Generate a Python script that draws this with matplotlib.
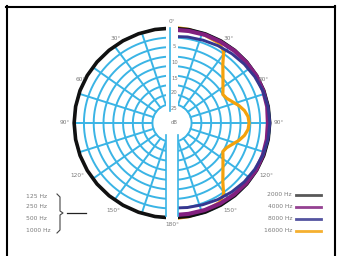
import numpy as np
import matplotlib
matplotlib.use("Agg")
import matplotlib.pyplot as plt
from matplotlib.lines import Line2D
from matplotlib.patches import Rectangle, Ellipse

# ---------------- data ----------------
left_labels = ["125 Hz", "250 Hz", "500 Hz", "1000 Hz"]
left_angles = [180, 190, 200, 210, 220, 230, 240, 250, 260, 270,
               280, 290, 300, 310, 320, 330, 340, 350, 360]
left_db = [0.0, 0.0, 0.0, 0.0, 0.0, 0.0, 0.0, 0.0, 0.0, 0.0,
           0.0, 0.0, 0.0, 0.0, 0.0, 0.0, 0.0, 0.0, 0.0]

right_labels = ["2000 Hz", "4000 Hz", "8000 Hz", "16000 Hz"]
right_colors = ["#111111", "#82207f", "#36368f", "#f4a20c"]

a_right = [0, 10, 20, 30, 40, 50, 60, 70, 80, 90,
           100, 110, 120, 130, 140, 150, 160, 170, 180]
db2000 = [0.0, 0.0, 0.0, 0.0, 0.0, 0.0, 0.0, 0.0, 0.0, 0.0,
          0.0, 0.0, 0.0, 0.0, 0.0, 0.0, 0.0, 0.0, 0.0]
db4000 = [-0.4, -0.4, -0.3, -0.3, -0.2, -0.2, -0.1, -0.2, -0.3, -0.5,
          -0.4, -0.3, -0.2, -0.3, -0.4, -0.5, -0.6, -0.7, -0.7]
db8000 = [-2.2, -2.0, -1.8, -1.5, -1.2, -0.9, -0.6, -0.3, -0.1, 0.0,
          -0.1, -0.3, -0.6, -0.9, -1.3, -1.7, -2.1, -2.4, -2.6]

a16000 = [0, 10, 20, 30, 35, 40, 45, 50, 55, 60, 65, 70, 75, 80, 85, 90,
          95, 100, 105, 110, 115, 120, 125, 130, 135, 140, 145, 150, 160, 170, 180]
db16000 = [0.3, 0.0, -0.4, -0.8, -2.0, -4.8, -6.6, -8.0, -9.1, -10.0, -9.6, -8.6,
           -7.3, -6.2, -5.5, -5.3, -5.5, -6.2, -7.3, -8.6, -9.6, -10.0, -9.1, -8.0,
           -6.6, -4.8, -2.0, -0.8, -0.4, 0.0, 0.3]

angle_ticks = [0, 30, 60, 90, 120, 150, 180, 210, 240, 270, 300, 330]
angle_tick_labels = ["0°", "30°", "60°", "90°", "120°", "150°", "180°",
                     "150°", "120°", "90°", "60°", "30°"]
db_labels = ["5", "10", "15", "20", "25", "dB"]

ring_db = [-20, -17.5, -15, -12.5, -10, -7.5, -5, -2.5, 0]
spoke_step = 18

# ---------------- figure ----------------
W, H = 337, 256
fig = plt.figure(figsize=(W / 100, H / 100), dpi=100)
fig.patch.set_facecolor("white")

cx, cy = 172, 123
aw, ah = 202, 196
ax = fig.add_axes([(cx - aw / 2) / W, 1 - (cy + ah / 2) / H, aw / W, ah / H],
                  projection="polar")
ax.set_theta_zero_location("N")
ax.set_theta_direction(-1)
ax.set_ylim(-25, 0.8)
ax.set_aspect("auto")
ax.grid(False)
ax.set_xticks([])
ax.set_yticks([])
ax.spines["polar"].set_visible(False)
ax.patch.set_alpha(0)

grid_c = "#3ab4e5"
th = np.linspace(0, 2 * np.pi, 721)
for r in ring_db:
    ax.plot(th, np.full_like(th, r), color=grid_c, lw=1.4, zorder=1)
for a in range(0, 360, spoke_step):
    ax.plot([np.deg2rad(a)] * 2, [-20, 0], color=grid_c, lw=1.4, zorder=1)

# center hole
ax.add_patch(Ellipse((0.5, 0.5), 0.17, 0.125, transform=ax.transAxes,
                     facecolor="white", edgecolor="none", zorder=2))

# curves
rad_right = np.deg2rad(a_right)
ax.plot(np.deg2rad(a16000), db16000, color=right_colors[3], lw=2.3, zorder=3)
ax.plot(rad_right, db2000, color=right_colors[0], lw=2.3, zorder=3.1)
ax.plot(rad_right, db4000, color=right_colors[1], lw=3.0, zorder=3.2)
ax.plot(rad_right, db8000, color=right_colors[2], lw=2.1, zorder=3.3)
ax.plot(np.deg2rad(left_angles), left_db, color="#111111", lw=2.6, zorder=3)

# vertical white slot
sw = 0.032
ax.add_patch(Rectangle((0.5 - sw, 0.0), 2 * sw, 1.0, transform=ax.transAxes,
                       facecolor="white", edgecolor="none", zorder=5))
ax.plot([0.49, 0.49], [0.56, 0.985], transform=ax.transAxes, color=grid_c,
        lw=1.2, zorder=6)
ax.plot([0.5 - sw + 0.004] * 2, [0.025, 0.44], transform=ax.transAxes,
        color=grid_c, lw=1.2, zorder=6)
ax.plot([0.5 + sw - 0.004] * 2, [0.025, 0.44], transform=ax.transAxes,
        color=grid_c, lw=1.2, zorder=6)

txt_c = "#7a7a7a"
label_pos = {0: (0, 1.6), 30: (33, 1.6), 60: (64, 1.0), 90: (90, 2.3),
             120: (120, 2.8), 150: (147, 2.4), 180: (180, 1.6),
             210: (213, 2.4), 240: (240, 2.8), 270: (270, 2.3),
             300: (296, 1.0), 330: (327, 1.6)}
for a, lab in zip(angle_ticks, angle_tick_labels):
    ang, rr = label_pos[a]
    ax.text(np.deg2rad(ang), rr, lab, ha="center", va="center", fontsize=4.2,
            color=txt_c, zorder=7, clip_on=False)

db_y = [47, 62, 78, 93, 108, 123]
for lab, yy in zip(db_labels, db_y):
    ax.text(0.512, 0.5 + (cy - yy) / ah, lab, transform=ax.transAxes,
            ha="center", va="center", fontsize=3.8, color=txt_c, zorder=7)

# ---------------- legends ----------------
def fx(x):
    return x / W

def fy(y):
    return 1 - y / H

left_y = [196, 206, 218, 230]
for lab, yy in zip(left_labels, left_y):
    fig.text(fx(26), fy(yy), lab, ha="left", va="center", fontsize=4.3,
             color=txt_c)
bx = [57, 60, 60, 63, 60, 60, 57]
by = [194, 197, 211, 213, 215, 230, 233]
fig.add_artist(Line2D([fx(v) for v in bx], [fy(v) for v in by],
                      color="#444444", lw=0.8))
fig.add_artist(Line2D([fx(67), fx(86)], [fy(213), fy(213)],
                      color="#222222", lw=0.9))

right_y = [195, 207, 219, 231]
for lab, col, yy in zip(right_labels, right_colors, right_y):
    fig.text(fx(292), fy(yy), lab, ha="right", va="center", fontsize=4.3,
             color=txt_c)
    fig.add_artist(Line2D([fx(296), fx(321)], [fy(yy), fy(yy)], color=col,
                          lw=2.0, alpha=0.85 if col != "#111111" else 0.7))

# border
for xs, ys in [([6, 335], [6.5, 6.5]), ([6.5, 6.5], [6, 256]),
               ([334.5, 334.5], [6, 256])]:
    fig.add_artist(Line2D([fx(v) for v in xs], [fy(v) for v in ys],
                          color="black", lw=1.5))

fig.savefig("out.png", dpi=100, facecolor="white")
